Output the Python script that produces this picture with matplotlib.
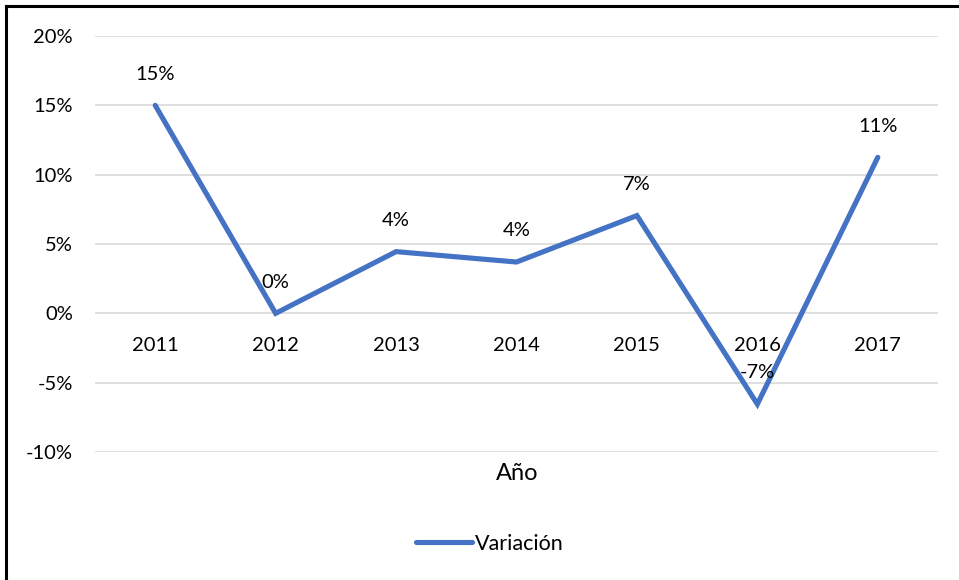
import matplotlib
matplotlib.use("Agg")
import matplotlib.pyplot as plt
from matplotlib.lines import Line2D

plt.rcParams['font.family'] = ['Lato', 'DejaVu Sans']

years = ["2011", "2012", "2013", "2014", "2015", "2016", "2017"]
variacion = [15.0, 0.0, 4.45, 3.7, 7.05, -6.55, 11.25]
labels = ["15%", "0%", "4%", "4%", "7%", "-7%", "11%"]
yticks = [-10, -5, 0, 5, 10, 15, 20]
ytick_labels = ["-10%", "-5%", "0%", "5%", "10%", "15%", "20%"]

W, H = 959, 580
FS = 14.5
fig = plt.figure(figsize=(W / 100, H / 100), dpi=100)
ax = fig.add_axes([95 / W, 1 - 452 / H, (938 - 95) / W, (452 - 36) / H])

x = list(range(len(years)))
ax.plot(x, variacion, color="#4472C4", lw=3.7, solid_capstyle="round",
        solid_joinstyle="miter", zorder=3, label="Variación")
ax.set_xlim(-0.5, len(years) - 0.5)
ax.set_ylim(-10, 20)
ax.set_yticks(yticks)
ax.set_yticklabels(ytick_labels)
ax.tick_params(axis="y", length=0, pad=16, labelsize=FS)
ax.set_xticks([])
ax.grid(axis="y", color="#D9D9D9", lw=1.2, zorder=0)
ax.set_axisbelow(True)
for s in ax.spines.values():
    s.set_visible(False)

for xi, yr in zip(x, years):
    ax.annotate(yr, (xi, 0), xytext=(0, -23), textcoords="offset points",
                ha="center", va="center", fontsize=FS, zorder=5)
for xi, v, lab in zip(x, variacion, labels):
    ax.annotate(lab, (xi, v), xytext=(0, 22.5), textcoords="offset points",
                ha="center", va="center", fontsize=FS, zorder=5)

fig.text(517 / W, 1 - 474 / H, "Año", ha="center", va="center", fontsize=17)

leg = fig.legend(handles=[Line2D([], [], color="#4472C4", lw=3.7, solid_capstyle="round")],
                 labels=["Variación"], loc="center", bbox_to_anchor=(490 / W, 1 - 544 / H),
                 frameon=False, fontsize=15.5, handlelength=2.6, handletextpad=0.15)

# figure border (top and left only, as in the reference crop)
fig.add_artist(Line2D([6 / W, 957 / W], [1 - 6 / H, 1 - 6 / H], color="black", lw=2.2,
                      transform=fig.transFigure))
fig.add_artist(Line2D([6 / W, 6 / W], [0, 1 - 6 / H], color="black", lw=2.2,
                      transform=fig.transFigure))

fig.savefig("out.png", dpi=100)
